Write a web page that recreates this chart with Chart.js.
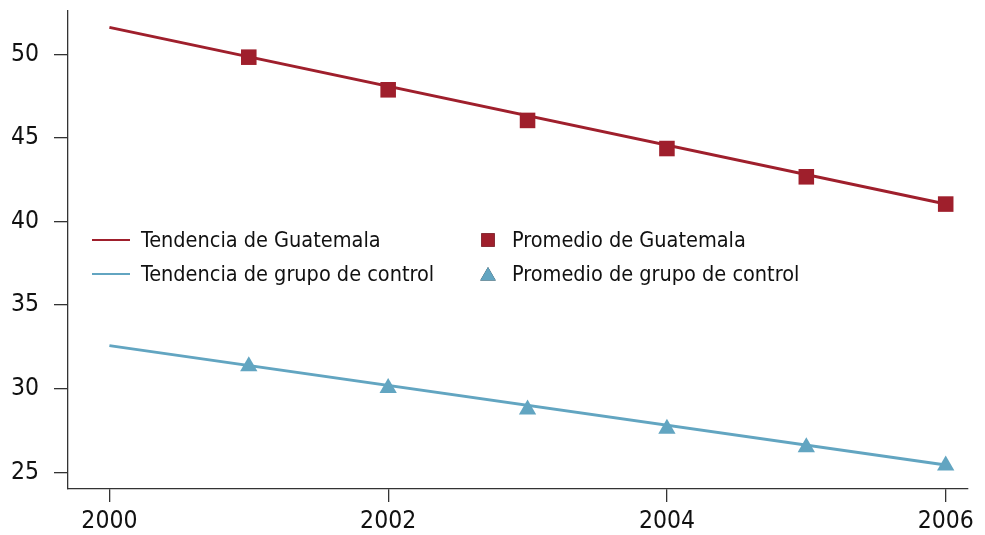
<!DOCTYPE html>
<html>
<head>
<meta charset="utf-8">
<script src="https://cdn.jsdelivr.net/npm/chart.js@4.4.1/dist/chart.umd.min.js"></script>
<style>
  html, body { margin: 0; padding: 0; background: #ffffff; }
  #wrap { width: 985px; height: 535px; position: relative; }
</style>
</head>
<body>
<div id="wrap"><canvas id="c" width="985" height="535"></canvas></div>
<script>
// ---- Data ----
const trendYears = [2000, 2006];
const guatemalaTrend = [51.6, 41.04];
const controlTrend = [32.58, 25.45];
const avgYears = [2001, 2002, 2003, 2004, 2005, 2006];
const guatemalaAvg = [49.82, 47.87, 46.04, 44.36, 42.67, 41.04];
const controlAvg = [31.35, 30.04, 28.76, 27.61, 26.51, 25.42];
const xTickValues = [2000, 2002, 2004, 2006];
const yTickValues = [25, 30, 35, 40, 45, 50];
const labels = {
  guatTrend: 'Tendencia de Guatemala',
  guatAvg: 'Promedio de Guatemala',
  ctrlTrend: 'Tendencia de grupo de control',
  ctrlAvg: 'Promedio de grupo de control'
};

// ---- Styles ----
const RED = '#9f1f2c';
const BLUE = '#62a5c1';
const AXIS = '#333333';
const TEXT = '#111111';
const FONT = '"DejaVu Sans Condensed", "Liberation Sans Narrow", sans-serif';

const toXY = (xs, ys) => xs.map((x, i) => ({ x: x, y: ys[i] }));

const legendPlugin = {
  id: 'customLegend',
  afterDraw(chart) {
    const ctx = chart.ctx;
    const a = chart.chartArea;
    ctx.save();
    ctx.font = '21.5px ' + FONT;
    ctx.fillStyle = TEXT;
    ctx.textBaseline = 'middle';
    ctx.textAlign = 'left';
    const rows = [a.top + 229, a.top + 263];
    const col1 = a.left + 24, col2 = a.left + 420;
    const items = [
      { col: 0, row: 0, kind: 'line', color: RED, text: labels.guatTrend },
      { col: 0, row: 1, kind: 'line', color: BLUE, text: labels.ctrlTrend },
      { col: 1, row: 0, kind: 'rect', color: RED, text: labels.guatAvg },
      { col: 1, row: 1, kind: 'triangle', color: BLUE, text: labels.ctrlAvg }
    ];
    items.forEach(it => {
      const y = rows[it.row];
      if (it.kind === 'line') {
        ctx.strokeStyle = it.color;
        ctx.lineWidth = 2;
        ctx.beginPath();
        ctx.moveTo(col1, y);
        ctx.lineTo(col1 + 38, y);
        ctx.stroke();
        ctx.fillText(it.text, col1 + 49, y + 1);
      } else {
        const r = it.kind === 'rect' ? 9.5 : 9;
        Chart.helpers.drawPoint(ctx, {
          pointStyle: it.kind, radius: r, rotation: 0, borderWidth: 0
        }, col2, y + (it.kind === 'triangle' ? 2 : 0));
        ctx.fillStyle = it.color;
        ctx.fill();
        ctx.fillStyle = TEXT;
        ctx.fillText(it.text, col2 + 24, y + 1);
      }
    });
    ctx.restore();
  }
};

new Chart(document.getElementById('c'), {
  type: 'scatter',
  data: {
    datasets: [
      {
        label: labels.guatAvg,
        data: toXY(avgYears, guatemalaAvg),
        pointStyle: 'rect', pointRadius: 11, pointHoverRadius: 11,
        backgroundColor: RED, borderColor: RED, borderWidth: 0,
        showLine: false
      },
      {
        label: labels.ctrlAvg,
        data: toXY(avgYears, controlAvg),
        pointStyle: 'triangle', pointRadius: 10, pointHoverRadius: 10,
        backgroundColor: BLUE, borderColor: BLUE, borderWidth: 0,
        showLine: false
      },
      {
        label: labels.guatTrend,
        data: toXY(trendYears, guatemalaTrend),
        showLine: true, pointRadius: 0, pointHoverRadius: 0,
        borderColor: RED, borderWidth: 3, backgroundColor: RED
      },
      {
        label: labels.ctrlTrend,
        data: toXY(trendYears, controlTrend),
        showLine: true, pointRadius: 0, pointHoverRadius: 0,
        borderColor: BLUE, borderWidth: 3, backgroundColor: BLUE
      }
    ]
  },
  options: {
    responsive: false,
    animation: false,
    events: [],
    layout: { padding: { top: 9, right: 17, left: 0, bottom: 0 } },
    plugins: {
      legend: { display: false },
      tooltip: { enabled: false }
    },
    scales: {
      x: {
        type: 'linear',
        min: 1999.703, max: 2006.16,
        afterBuildTicks(scale) { scale.ticks = xTickValues.map(v => ({ value: v })); },
        afterFit(scale) { scale.height = 46; scale.paddingLeft = 0; scale.paddingRight = 0; },
        grid: { drawOnChartArea: false, drawTicks: true, tickLength: 13, color: AXIS, lineWidth: 1.3 },
        border: { display: true, color: AXIS, width: 1.3 },
        ticks: {
          color: TEXT, padding: 5, maxRotation: 0, autoSkip: false,
          font: { family: FONT, size: 24.5 },
          callback: v => String(v)
        }
      },
      y: {
        type: 'linear',
        min: 24.01, max: 52.58,
        afterBuildTicks(scale) { scale.ticks = yTickValues.map(v => ({ value: v })); },
        afterFit(scale) { scale.width = 68; scale.paddingTop = 0; scale.paddingBottom = 0; },
        grid: { drawOnChartArea: false, drawTicks: true, tickLength: 14, color: AXIS, lineWidth: 1.3 },
        border: { display: true, color: AXIS, width: 1.3 },
        ticks: {
          color: TEXT, padding: 15, autoSkip: false,
          font: { family: FONT, size: 24.5 },
          callback: v => String(v)
        }
      }
    }
  },
  plugins: [legendPlugin]
});
</script>
</body>
</html>
